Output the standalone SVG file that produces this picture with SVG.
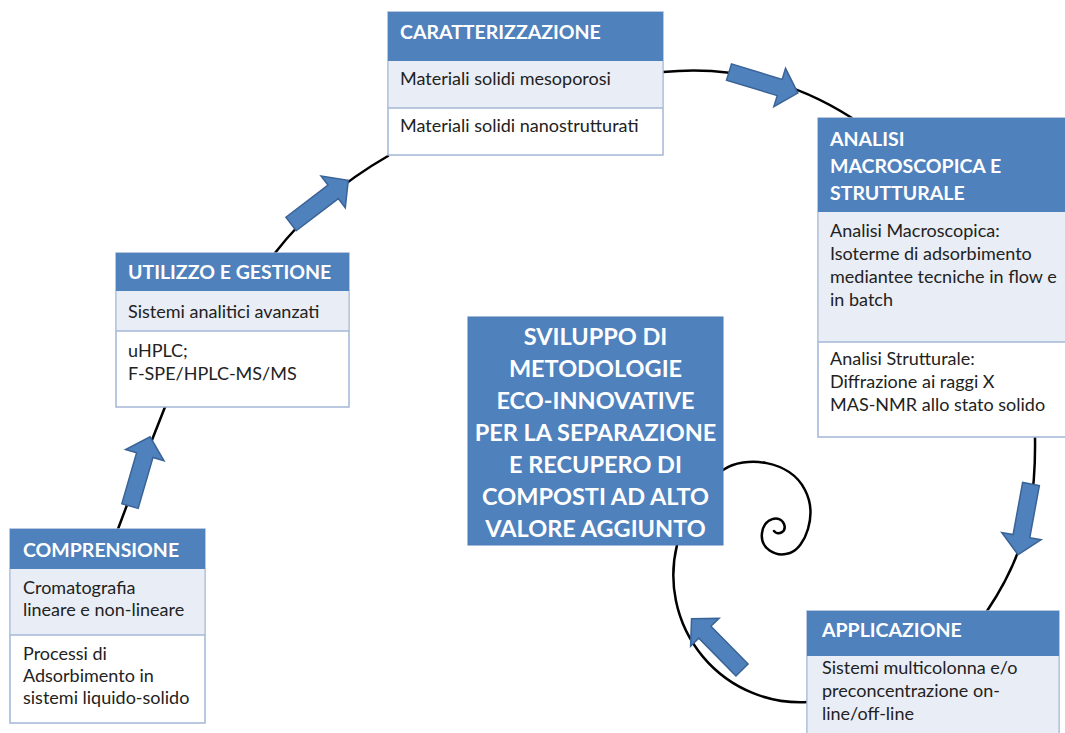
<svg xmlns="http://www.w3.org/2000/svg" width="1065" height="733" viewBox="0 0 1065 733">
<style>
.box{fill:#ffffff;stroke:#a3b7d6;stroke-width:1.5}
.hdr{fill:#4f81bd}
.r1{fill:#e9edf5}
.div{stroke:#a3b7d6;stroke-width:1.5}
.ht{font-family:Lato,"Open Sans",sans-serif;font-weight:bold;font-size:19.5px;fill:#ffffff}
.bt{font-family:Lato,"Open Sans",sans-serif;font-size:18px;fill:#222222}
.ct{font-family:Lato,"Open Sans",sans-serif;font-weight:bold;font-size:23.5px;fill:#ffffff;text-anchor:middle}
.ln{fill:none;stroke:#000000;stroke-width:2.5;stroke-linecap:round}
.arr{fill:#4f81bd;stroke:#3a6396;stroke-width:1.5;stroke-linejoin:miter}
</style>
<defs>
<polygon id="blk" points="0,-8.5 53,-8.5 53,-20 72,0 53,20 53,8.5 0,8.5"/>
</defs>
<rect width="1065" height="733" fill="#ffffff"/>

<g id="connectors">
<path class="ln" d="M118,529 Q140,470 165,407"/>
<path class="ln" d="M275,253 Q320,195 388,156"/>
<path class="ln" d="M663,72 Q765,62 852,118"/>
<path class="ln" d="M1035,437 C1036,500 1028,550 987,611"/>
<path class="ln" d="M808,702 A127,127 0 0 1 677,545"/>
<path class="ln" d="M723,470 C745,455 790,460 805,490 C818,515 805,548 790,553 C775,558 760,548 762,533 C764,518 780,514 784,524 C787,532 778,536 774,531"/>
<use href="#blk" class="arr" transform="translate(130,506) rotate(-73.8)"/>
<use href="#blk" class="arr" transform="translate(291,224) rotate(-37.3)"/>
<use href="#blk" class="arr" transform="translate(729,72) rotate(17)"/>
<use href="#blk" class="arr" transform="translate(1031,484) rotate(100.4)"/>
<use href="#blk" class="arr" transform="translate(742,670) rotate(-134.5)"/>
</g>

<g id="caratterizzazione">
<rect class="box" x="388" y="12" width="275" height="143"/>
<rect class="hdr" x="388" y="12" width="275" height="49"/>
<rect class="r1" x="388.75" y="61" width="273.5" height="47"/>
<line class="div" x1="388" y1="108" x2="663" y2="108"/>
<text class="ht" x="400" y="39">CARATTERIZZAZIONE</text>
<text class="bt" x="400" y="85">Materiali solidi mesoporosi</text>
<text class="bt" x="400" y="132">Materiali solidi nanostrutturati</text>
</g>

<g id="analisi">
<rect class="box" x="818" y="118" width="252" height="319"/>
<rect class="hdr" x="818" y="118" width="252" height="94"/>
<rect class="r1" x="818.75" y="212" width="251" height="130"/>
<line class="div" x1="818" y1="342" x2="1070" y2="342"/>
<text class="ht" x="830" y="146">ANALISI</text>
<text class="ht" x="830" y="173">MACROSCOPICA E</text>
<text class="ht" x="830" y="200">STRUTTURALE</text>
<text class="bt" x="830" y="237">Analisi Macroscopica:</text>
<text class="bt" x="830" y="260">Isoterme di adsorbimento</text>
<text class="bt" x="830" y="283">mediantee tecniche in flow e</text>
<text class="bt" x="830" y="306">in batch</text>
<text class="bt" x="830" y="365">Analisi Strutturale:</text>
<text class="bt" x="830" y="388">Diffrazione ai raggi X</text>
<text class="bt" x="830" y="411">MAS-NMR allo stato solido</text>
</g>

<g id="utilizzo">
<rect class="box" x="116" y="253" width="233" height="154"/>
<rect class="hdr" x="116" y="253" width="233" height="38"/>
<rect class="r1" x="116.75" y="291" width="231.5" height="40"/>
<line class="div" x1="116" y1="331" x2="349" y2="331"/>
<text class="ht" x="128" y="279">UTILIZZO E GESTIONE</text>
<text class="bt" x="128" y="318">Sistemi analitici avanzati</text>
<text class="bt" x="128" y="357">uHPLC;</text>
<text class="bt" x="128" y="380">F-SPE/HPLC-MS/MS</text>
</g>

<g id="comprensione">
<rect class="box" x="10" y="529" width="195" height="194"/>
<rect class="hdr" x="10" y="529" width="195" height="40"/>
<rect class="r1" x="10.75" y="569" width="193.5" height="66"/>
<line class="div" x1="10" y1="635" x2="205" y2="635"/>
<text class="ht" x="23" y="557">COMPRENSIONE</text>
<text class="bt" x="23" y="594">Cromatografia</text>
<text class="bt" x="23" y="616">lineare e non-lineare</text>
<text class="bt" x="23" y="660">Processi di</text>
<text class="bt" x="23" y="682">Adsorbimento  in</text>
<text class="bt" x="23" y="704">sistemi liquido-solido</text>
</g>

<g id="sviluppo">
<rect x="468" y="317" width="255" height="228" fill="#4f81bd" stroke="#4a7ab5" stroke-width="1"/>
<text class="ct" x="595.5" y="345">SVILUPPO DI</text>
<text class="ct" x="595.5" y="377">METODOLOGIE</text>
<text class="ct" x="595.5" y="409">ECO-INNOVATIVE</text>
<text class="ct" x="595.5" y="441">PER LA SEPARAZIONE</text>
<text class="ct" x="595.5" y="473">E RECUPERO DI</text>
<text class="ct" x="595.5" y="505">COMPOSTI  AD ALTO</text>
<text class="ct" x="595.5" y="537">VALORE AGGIUNTO</text>
</g>

<g id="applicazione">
<rect class="box" x="807" y="611" width="252" height="140"/>
<rect class="hdr" x="807" y="611" width="252" height="45"/>
<rect class="r1" x="807.75" y="656" width="250.5" height="95"/>
<text class="ht" x="822" y="637">APPLICAZIONE</text>
<text class="bt" x="822" y="674">Sistemi multicolonna  e/o</text>
<text class="bt" x="822" y="697">preconcentrazione  on-</text>
<text class="bt" x="822" y="720">line/off-line</text>
</g>
</svg>
